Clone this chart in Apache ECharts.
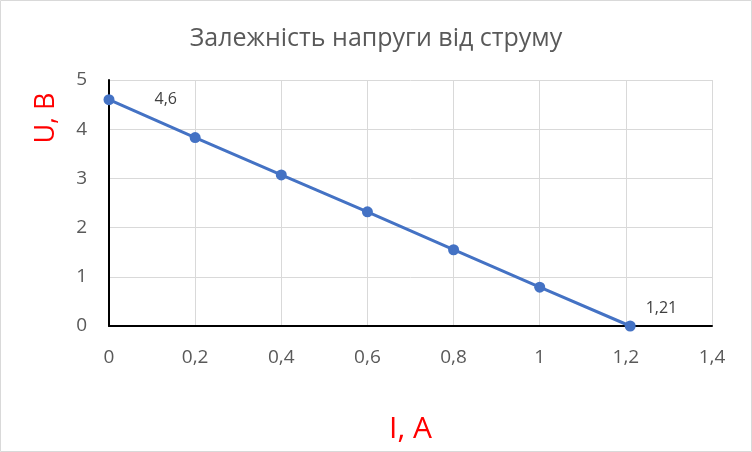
<!DOCTYPE html>
<html><head><meta charset="utf-8">
<script src="https://cdn.jsdelivr.net/npm/echarts@6/dist/echarts.min.js"></script>
<style>html,body{margin:0;padding:0;background:#fff}#c{width:752px;height:452px}</style>
</head><body><div id="c"></div>
<script>
const currentA = [0, 0.2, 0.4, 0.6, 0.8, 1, 1.21];
const voltageV = [4.6, 3.83, 3.07, 2.32, 1.55, 0.79, 0];
const labelled = [0, 6];
const titleText = 'Залежність напруги від струму';
const xName = 'І, А';
const yName = 'U, В';

const fmt = v => String(Math.round(v * 100) / 100).replace('.', ',');
const chart = echarts.init(document.getElementById('c'));
const font = 'Open Sans, Noto Sans, sans-serif';
chart.setOption({
  animation: false,
  graphic: [
    {type: 'rect', shape: {x: 0.5, y: 0.5, width: 751, height: 451}, style: {fill: 'none', stroke: '#d9d9d9', lineWidth: 1}},
    {type: 'text', x: 46, y: 118, rotation: Math.PI / 2,
     style: {text: yName, fill: '#ff0000', font: '27px ' + font, align: 'center', verticalAlign: 'middle'}}
  ],
  title: {text: titleText, left: 'center', top: 21, textStyle: {fontFamily: font, fontSize: 25, fontWeight: 'normal', color: '#595959'}},
  grid: {left: 109, right: 40, top: 80, bottom: 126},
  xAxis: {
    type: 'value', min: 0, max: 1.4, interval: 0.2,
    name: xName, nameLocation: 'middle', nameGap: 88,
    nameTextStyle: {color: '#ff0000', fontSize: 30, fontFamily: font},
    axisLine: {show: true, onZero: true, lineStyle: {color: '#000', width: 2}},
    axisTick: {show: false},
    axisLabel: {color: '#595959', fontSize: 19, fontFamily: font, margin: 22, formatter: fmt},
    splitLine: {show: true, lineStyle: {color: '#d9d9d9', width: 1}}
  },
  yAxis: {
    type: 'value', min: 0, max: 5, interval: 1,
    axisLine: {show: true, lineStyle: {color: '#000', width: 2}},
    axisTick: {show: false},
    axisLabel: {color: '#595959', fontSize: 19, fontFamily: font, margin: 22, formatter: fmt},
    splitLine: {show: true, lineStyle: {color: '#d9d9d9', width: 1}}
  },
  series: [{
    type: 'line',
    data: currentA.map((x, i) => ({
      value: [x, voltageV[i]],
      label: labelled.includes(i) ? {
        show: true,
        position: i === 0 ? [51, -3] : [21, -20],
        formatter: p => fmt(i === 0 ? p.value[1] : p.value[0]),
        color: '#404040', fontSize: 16, fontFamily: font
      } : {show: false}
    })),
    symbol: 'circle', symbolSize: 11,
    lineStyle: {color: '#4472c4', width: 3},
    itemStyle: {color: '#4472c4'}
  }]
});
</script></body></html>
